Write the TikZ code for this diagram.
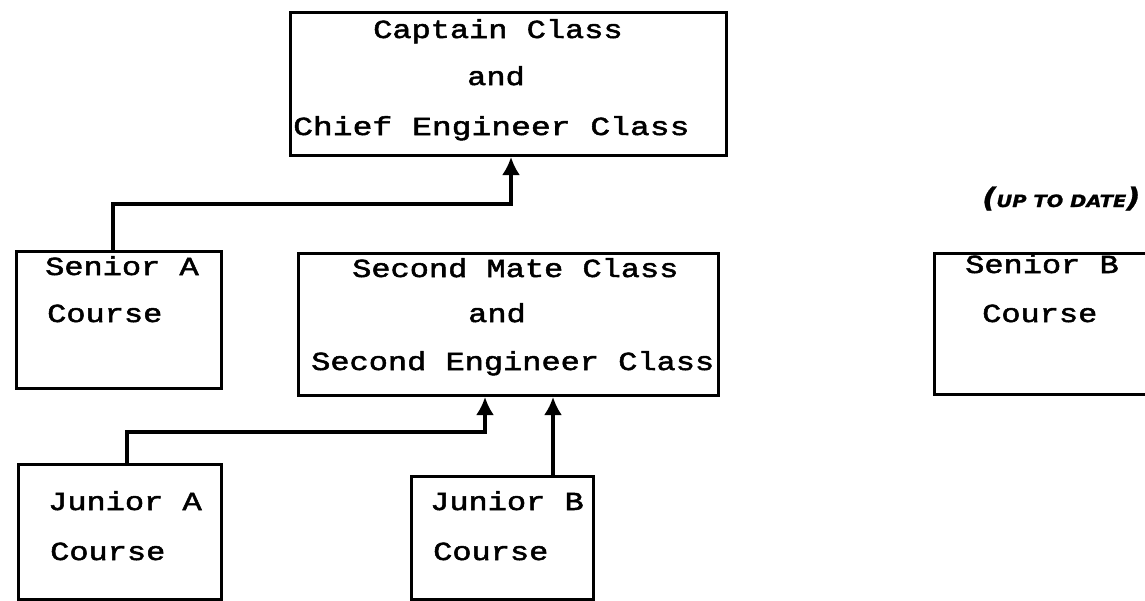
\documentclass[tikz,border=0pt]{standalone}
\usepackage{fontspec}
\usetikzlibrary{arrows.meta}
\newfontfamily\dotfont[FakeStretch=1.23,FakeBold=2]{Liberation Mono}
\newfontfamily\handfont[FakeStretch=1.15,FakeBold=1]{DejaVu Sans}
\begin{document}
\begin{tikzpicture}[x=1pt,y=1pt,
  box/.style={draw, line width=3pt, inner sep=0pt, anchor=north west},
  lbl/.style={anchor=base west, inner sep=0pt, font={\dotfont\fontsize{26}{30}\selectfont}},
  conn/.style={line width=3.2pt, arrows={-Latex[length=18pt,width=18pt]}}]
\clip (0,0) rectangle (1145,-600);
\fill[white] (0,0) rectangle (1145,-600);
% boxes
\node[box, minimum width=436pt, minimum height=143pt] (top) at (289,-11) {};
\node[box, minimum width=205pt, minimum height=137pt] (seniorA) at (15,-250) {};
\node[box, minimum width=420pt, minimum height=142pt] (second) at (297,-252) {};
\node[box, minimum width=203pt, minimum height=135pt] (juniorA) at (17,-463) {};
\node[box, minimum width=182pt, minimum height=123pt] (juniorB) at (410,-475) {};
\node[box, minimum width=240pt, minimum height=141pt] (seniorB) at (933,-252) {};
% texts
\node[lbl] (t1) at (373,-38) {Captain Class};
\node[lbl] (t2) at (467,-85) {and};
\node[lbl, font={\dotfont\addfontfeature{FakeStretch=1.27}\fontsize{26}{30}\selectfont}] (t3) at (293,-135) {Chief Engineer Class};
\node[lbl] (s1) at (352,-277) {Second Mate Class};
\node[lbl] (s2) at (468,-322) {and};
\node[lbl] (s3) at (311,-370) {Second Engineer Class};
\node[lbl] (sa1) at (45,-275) {Senior A};
\node[lbl] (sa2) at (47,-322) {Course};
\node[lbl] (ja1) at (48,-510) {Junior A};
\node[lbl] (ja2) at (50,-560) {Course};
\node[lbl] (jb1) at (430,-510) {Junior B};
\node[lbl] (jb2) at (433,-560) {Course};
\node[lbl] (sb1) at (965,-273) {Senior B};
\node[lbl] (sb2) at (982,-322) {Course};
\node[anchor=base west, inner sep=0pt, font={\handfont\bfseries\itshape}] (uptodate) at (982,-207)
  {\fontsize{27}{28}\selectfont(\fontsize{17}{20}\selectfont UP TO DATE\fontsize{27}{28}\selectfont)};
% connectors
\draw[conn] ([xshift=98pt]seniorA.north west) -- ++(0,46) -| ([xshift=222pt]top.south west);
\draw[conn] ([xshift=110pt]juniorA.north west) -- ++(0,31) -| ([xshift=188pt]second.south west);
\draw[conn] ([xshift=143pt]juniorB.north west) -- ([xshift=256pt]second.south west);
\end{tikzpicture}
\end{document}
